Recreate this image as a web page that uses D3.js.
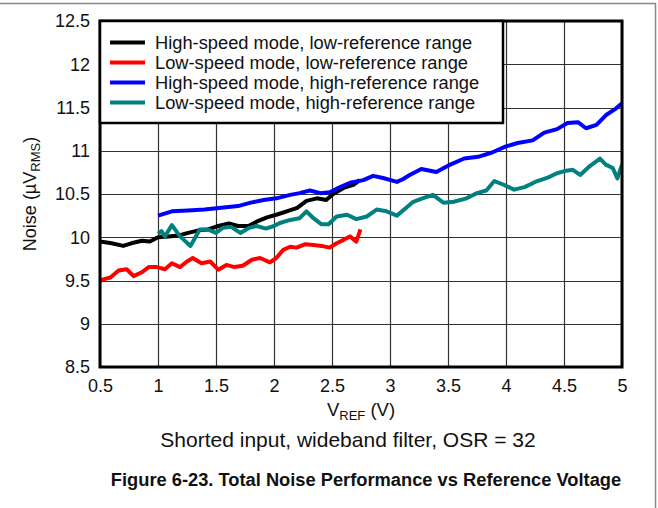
<!DOCTYPE html>
<html><head><meta charset="utf-8">
<script src="https://cdn.jsdelivr.net/npm/d3@7"></script>
<style>body{margin:0;background:#fff;}svg{display:block;font-family:"Liberation Sans",Arial,sans-serif;}</style>
</head><body>
<script>
const xTicks = [0.5,1,1.5,2,2.5,3,3.5,4,4.5,5];
const yTicks = [8.5,9,9.5,10,10.5,11,11.5,12,12.5];
const seriesNames = ["High-speed mode, low-reference range","Low-speed mode, low-reference range","High-speed mode, high-reference range","Low-speed mode, high-reference range"];
const seriesColors = ["#000000","#ff0000","#0000ff","#008080"];

const hsLowX = [0.5,0.6,0.7,0.77,0.86,0.93,1.0,1.09,1.18,1.26,1.35,1.43,1.52,1.61,1.69,1.78,1.85,1.94,2.02,2.11,2.2,2.28,2.37,2.45,2.51,2.6,2.69,2.74];
const hsLowY = [9.95,9.93,9.9,9.93,9.96,9.95,10.0,10.01,10.02,10.05,10.08,10.09,10.13,10.16,10.13,10.13,10.18,10.23,10.26,10.3,10.34,10.42,10.45,10.43,10.5,10.57,10.61,10.66];

const lsLowX = [0.5,0.52,0.59,0.66,0.73,0.79,0.86,0.92,0.99,1.06,1.12,1.19,1.25,1.3,1.375,1.45,1.52,1.59,1.66,1.73,1.81,1.88,1.965,2.02,2.08,2.14,2.195,2.27,2.34,2.41,2.48,2.54,2.6,2.655,2.71,2.745];
const lsLowY = [9.49,9.51,9.535,9.615,9.63,9.55,9.595,9.655,9.655,9.63,9.7,9.655,9.72,9.76,9.7,9.72,9.625,9.68,9.655,9.67,9.74,9.76,9.71,9.76,9.855,9.89,9.88,9.92,9.91,9.9,9.88,9.93,9.97,10.01,9.95,10.09];

const hsHighX = [1.0,1.12,1.26,1.4,1.545,1.69,1.8,1.91,2.02,2.14,2.22,2.31,2.4,2.48,2.57,2.655,2.77,2.855,2.94,3.06,3.11,3.17,3.27,3.4,3.52,3.64,3.76,3.88,4.0,4.1,4.23,4.33,4.44,4.53,4.62,4.69,4.78,4.86,4.95,5.0];
const hsHighY = [10.25,10.3,10.31,10.32,10.34,10.36,10.4,10.43,10.45,10.49,10.51,10.54,10.51,10.52,10.58,10.63,10.66,10.71,10.685,10.64,10.67,10.72,10.79,10.755,10.84,10.91,10.93,10.98,11.05,11.09,11.12,11.21,11.25,11.32,11.33,11.26,11.3,11.41,11.49,11.55];

const lsHighX = [1.0,1.03,1.06,1.12,1.19,1.28,1.36,1.43,1.5,1.56,1.63,1.71,1.78,1.85,1.93,2.0,2.05,2.14,2.22,2.28,2.34,2.41,2.47,2.54,2.63,2.71,2.8,2.885,2.97,3.06,3.14,3.2,3.28,3.37,3.46,3.55,3.66,3.75,3.83,3.9,3.975,4.07,4.16,4.27,4.36,4.44,4.52,4.575,4.64,4.72,4.81,4.86,4.92,4.96,5.0];
const lsHighY = [10.04,10.07,10.01,10.14,10.01,9.9,10.09,10.09,10.05,10.11,10.12,10.05,10.105,10.13,10.1,10.13,10.165,10.2,10.22,10.3,10.22,10.15,10.15,10.24,10.26,10.21,10.24,10.32,10.3,10.25,10.34,10.41,10.45,10.49,10.4,10.41,10.45,10.51,10.54,10.65,10.61,10.55,10.58,10.65,10.69,10.74,10.77,10.78,10.72,10.82,10.91,10.84,10.8,10.68,10.84];

const seriesX = [hsLowX, lsLowX, hsHighX, lsHighX];
const seriesY = [hsLowY, lsLowY, hsHighY, lsHighY];

const W = 658, H = 508;
const M = {left:100, right:622, top:21, bottom:367};
const svg = d3.select("body").append("svg").attr("width",W).attr("height",H);

// outer frame (top & right)
svg.append("line").attr("x1",0).attr("x2",656).attr("y1",3.5).attr("y2",3.5).attr("stroke","#888").attr("stroke-width",1.5);
svg.append("line").attr("x1",655.5).attr("x2",655.5).attr("y1",3).attr("y2",H).attr("stroke","#888").attr("stroke-width",1.5);

const x = d3.scaleLinear().domain([0.5,5]).range([M.left,M.right]);
const y = d3.scaleLinear().domain([8.5,12.5]).range([M.bottom,M.top]);

// grid
const g = svg.append("g");
g.selectAll(".vg").data(xTicks).enter().append("line")
  .attr("x1",d=>Math.round(x(d))+0.5).attr("x2",d=>Math.round(x(d))+0.5)
  .attr("y1",M.top).attr("y2",M.bottom).attr("stroke","#333").attr("stroke-width",1.2);
g.selectAll(".hg").data(yTicks).enter().append("line")
  .attr("y1",d=>Math.round(y(d))+0.5).attr("y2",d=>Math.round(y(d))+0.5)
  .attr("x1",M.left).attr("x2",M.right).attr("stroke","#333").attr("stroke-width",1.2);

// axes labels via d3 axes (no lines)
const xAxis = svg.append("g").attr("transform",`translate(0,${M.bottom})`)
  .call(d3.axisBottom(x).tickValues(xTicks).tickSize(0).tickPadding(12).tickFormat(d3.format("")));
const yAxis = svg.append("g").attr("transform",`translate(${M.left},0)`)
  .call(d3.axisLeft(y).tickValues(yTicks).tickSize(0).tickPadding(10).tickFormat(d3.format("")));
[xAxis,yAxis].forEach(a=>{a.select(".domain").remove();
  a.selectAll("text").attr("font-size",18).attr("fill","#111").attr("font-family","Liberation Sans, Arial, sans-serif");});

// series
const line = d3.line().x(d=>x(d[0])).y(d=>y(d[1]));
const clip = svg.append("clipPath").attr("id","c").append("rect")
  .attr("x",M.left).attr("y",M.top).attr("width",M.right-M.left).attr("height",M.bottom-M.top);
[1,0,3,2].forEach(i=>{
  const pts = seriesX[i].map((v,k)=>[v,seriesY[i][k]]);
  svg.append("path").datum(pts).attr("d",line).attr("fill","none")
    .attr("stroke",seriesColors[i]).attr("stroke-width",4).attr("stroke-linejoin","round")
    .attr("clip-path","url(#c)");
});

// plot border
svg.append("rect").attr("x",M.left).attr("y",M.top).attr("width",M.right-M.left).attr("height",M.bottom-M.top)
  .attr("fill","none").attr("stroke","#000").attr("stroke-width",3);

// legend
const lg = svg.append("g");
lg.append("rect").attr("x",M.left).attr("y",M.top).attr("width",403).attr("height",102)
  .attr("fill","#fff").attr("stroke","#000").attr("stroke-width",2.5);
seriesNames.forEach((n,i)=>{
  const yy = 42.5 + i*20;
  lg.append("line").attr("x1",110).attr("x2",145).attr("y1",yy).attr("y2",yy)
    .attr("stroke",seriesColors[i]).attr("stroke-width",4);
  lg.append("text").attr("x",155).attr("y",yy+6.5).attr("font-size",18.3).attr("fill","#111").text(n);
});

// axis titles
const xt = svg.append("text").attr("x",(M.left+M.right)/2).attr("y",416).attr("text-anchor","middle").attr("font-size",18.5).attr("fill","#111");
xt.append("tspan").text("V");
xt.append("tspan").attr("font-size",13).attr("dy",4).text("REF");
xt.append("tspan").attr("dy",-4).text(" (V)");

const yt = svg.append("text").attr("transform",`translate(36,${(M.top+M.bottom)/2}) rotate(-90)`).attr("text-anchor","middle").attr("font-size",18).attr("fill","#111");
yt.append("tspan").text("Noise (\u00B5V");
yt.append("tspan").attr("font-size",13).attr("dy",4).text("RMS");
yt.append("tspan").attr("dy",-4).text(")");

svg.append("text").attr("x",348).attr("y",447).attr("text-anchor","middle").attr("font-size",21).attr("fill","#111")
  .text("Shorted input, wideband filter, OSR = 32");
svg.append("text").attr("x",366).attr("y",486).attr("text-anchor","middle").attr("font-size",18.3).attr("font-weight","bold").attr("fill","#111")
  .text("Figure 6-23. Total Noise Performance vs Reference Voltage");
</script>
</body></html>
